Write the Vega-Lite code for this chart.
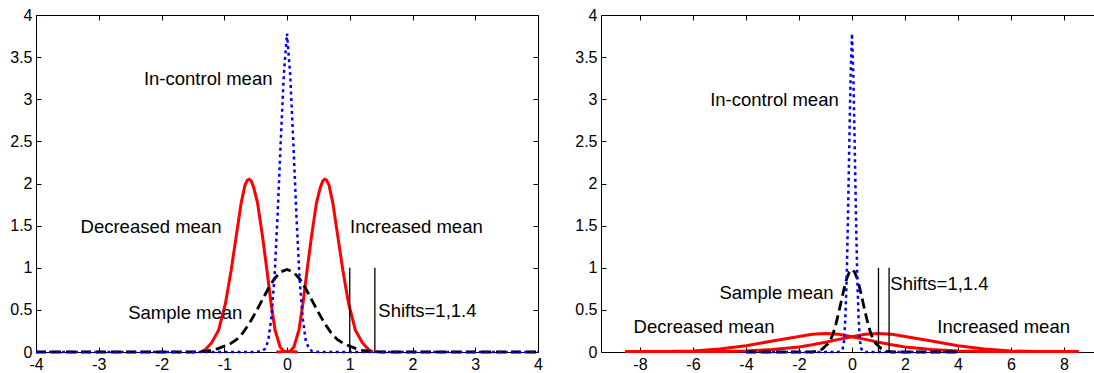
{
  "$schema": "https://vega.github.io/schema/vega-lite/v6.json",
  "padding": {"left": 9, "top": 7, "right": 0, "bottom": 0},
  "background": "white",
  "spacing": 30,
  "config": {
    "view": {"stroke": null},
    "font": "Liberation Sans",
    "axis": {"grid": false, "domain": false, "labelFont": "Liberation Sans", "labelFontSize": 16, "labelColor": "#000000", "tickColor": "#000000", "tickWidth": 1, "domainColor": "#000000", "domainWidth": 1, "title": null, "labelFlush": false, "labelOverlap": false}
  },
  "datasets": {
    "core": [
      {"x": -4, "y": 0, "kind": "incontrol"}, {"x": -0.5, "y": 0, "kind": "incontrol"}, {"x": -0.4, "y": 0.01, "kind": "incontrol"}, {"x": -0.35, "y": 0.04, "kind": "incontrol"}, {"x": -0.3, "y": 0.13, "kind": "incontrol"}, {"x": -0.25, "y": 0.4, "kind": "incontrol"}, {"x": -0.2, "y": 0.88, "kind": "incontrol"}, {"x": -0.15, "y": 1.62, "kind": "incontrol"}, {"x": -0.1, "y": 2.5, "kind": "incontrol"}, {"x": -0.05, "y": 3.3, "kind": "incontrol"}, {"x": 0, "y": 3.78, "kind": "incontrol"}, {"x": 0.05, "y": 3.3, "kind": "incontrol"}, {"x": 0.1, "y": 2.5, "kind": "incontrol"}, {"x": 0.15, "y": 1.62, "kind": "incontrol"}, {"x": 0.2, "y": 0.88, "kind": "incontrol"}, {"x": 0.25, "y": 0.4, "kind": "incontrol"}, {"x": 0.3, "y": 0.13, "kind": "incontrol"}, {"x": 0.35, "y": 0.04, "kind": "incontrol"}, {"x": 0.4, "y": 0.01, "kind": "incontrol"}, {"x": 0.5, "y": 0, "kind": "incontrol"}, {"x": 4, "y": 0, "kind": "incontrol"},
      {"x": -4, "y": 0, "kind": "sample"}, {"x": -1.5, "y": 0, "kind": "sample"}, {"x": -1.3, "y": 0.01, "kind": "sample"}, {"x": -1.2, "y": 0.02, "kind": "sample"}, {"x": -1.1, "y": 0.04, "kind": "sample"}, {"x": -1.0, "y": 0.07, "kind": "sample"}, {"x": -0.9, "y": 0.1, "kind": "sample"}, {"x": -0.8, "y": 0.15, "kind": "sample"}, {"x": -0.7, "y": 0.23, "kind": "sample"}, {"x": -0.6, "y": 0.34, "kind": "sample"}, {"x": -0.5, "y": 0.47, "kind": "sample"}, {"x": -0.4, "y": 0.61, "kind": "sample"}, {"x": -0.3, "y": 0.75, "kind": "sample"}, {"x": -0.2, "y": 0.87, "kind": "sample"}, {"x": -0.1, "y": 0.95, "kind": "sample"}, {"x": 0, "y": 0.98, "kind": "sample"}, {"x": 0.1, "y": 0.95, "kind": "sample"}, {"x": 0.2, "y": 0.87, "kind": "sample"}, {"x": 0.3, "y": 0.75, "kind": "sample"}, {"x": 0.4, "y": 0.61, "kind": "sample"}, {"x": 0.5, "y": 0.47, "kind": "sample"}, {"x": 0.6, "y": 0.34, "kind": "sample"}, {"x": 0.7, "y": 0.23, "kind": "sample"}, {"x": 0.8, "y": 0.15, "kind": "sample"}, {"x": 0.9, "y": 0.1, "kind": "sample"}, {"x": 1.0, "y": 0.07, "kind": "sample"}, {"x": 1.1, "y": 0.04, "kind": "sample"}, {"x": 1.2, "y": 0.02, "kind": "sample"}, {"x": 1.3, "y": 0.01, "kind": "sample"}, {"x": 1.5, "y": 0, "kind": "sample"}, {"x": 4, "y": 0, "kind": "sample"}
    ],
    "redL": [
      {"x": -1.37, "y": 0, "curve": "dec"}, {"x": -1.3, "y": 0.03, "curve": "dec"}, {"x": -1.2, "y": 0.11, "curve": "dec"}, {"x": -1.09, "y": 0.26, "curve": "dec"}, {"x": -0.98, "y": 0.58, "curve": "dec"}, {"x": -0.89, "y": 0.97, "curve": "dec"}, {"x": -0.81, "y": 1.37, "curve": "dec"}, {"x": -0.73, "y": 1.77, "curve": "dec"}, {"x": -0.67, "y": 1.98, "curve": "dec"}, {"x": -0.63, "y": 2.04, "curve": "dec"}, {"x": -0.6, "y": 2.05, "curve": "dec"}, {"x": -0.57, "y": 2.03, "curve": "dec"}, {"x": -0.53, "y": 1.95, "curve": "dec"}, {"x": -0.47, "y": 1.77, "curve": "dec"}, {"x": -0.39, "y": 1.37, "curve": "dec"}, {"x": -0.32, "y": 0.97, "curve": "dec"}, {"x": -0.255, "y": 0.58, "curve": "dec"}, {"x": -0.19, "y": 0.26, "curve": "dec"}, {"x": -0.11, "y": 0.06, "curve": "dec"}, {"x": -0.05, "y": 0.01, "curve": "dec"}, {"x": 0.17, "y": 0, "curve": "dec"},
      {"x": -0.17, "y": 0, "curve": "inc"}, {"x": 0.05, "y": 0.01, "curve": "inc"}, {"x": 0.11, "y": 0.06, "curve": "inc"}, {"x": 0.19, "y": 0.26, "curve": "inc"}, {"x": 0.255, "y": 0.58, "curve": "inc"}, {"x": 0.32, "y": 0.97, "curve": "inc"}, {"x": 0.39, "y": 1.37, "curve": "inc"}, {"x": 0.47, "y": 1.77, "curve": "inc"}, {"x": 0.53, "y": 1.95, "curve": "inc"}, {"x": 0.57, "y": 2.03, "curve": "inc"}, {"x": 0.6, "y": 2.05, "curve": "inc"}, {"x": 0.63, "y": 2.04, "curve": "inc"}, {"x": 0.67, "y": 1.98, "curve": "inc"}, {"x": 0.73, "y": 1.77, "curve": "inc"}, {"x": 0.81, "y": 1.37, "curve": "inc"}, {"x": 0.89, "y": 0.97, "curve": "inc"}, {"x": 0.98, "y": 0.58, "curve": "inc"}, {"x": 1.09, "y": 0.26, "curve": "inc"}, {"x": 1.2, "y": 0.11, "curve": "inc"}, {"x": 1.3, "y": 0.03, "curve": "inc"}, {"x": 1.37, "y": 0, "curve": "inc"}
    ],
    "redR": [
      {"x": -8.55, "y": 0.005, "curve": "dec"}, {"x": -7, "y": 0.005, "curve": "dec"}, {"x": -6, "y": 0.012, "curve": "dec"}, {"x": -5, "y": 0.035, "curve": "dec"}, {"x": -4, "y": 0.075, "curve": "dec"}, {"x": -3, "y": 0.13, "curve": "dec"}, {"x": -2, "y": 0.185, "curve": "dec"}, {"x": -1.5, "y": 0.21, "curve": "dec"}, {"x": -1, "y": 0.22, "curve": "dec"}, {"x": -0.5, "y": 0.21, "curve": "dec"}, {"x": 0, "y": 0.18, "curve": "dec"}, {"x": 0.5, "y": 0.15, "curve": "dec"}, {"x": 1, "y": 0.115, "curve": "dec"}, {"x": 1.5, "y": 0.085, "curve": "dec"}, {"x": 2, "y": 0.06, "curve": "dec"}, {"x": 3, "y": 0.03, "curve": "dec"}, {"x": 4, "y": 0.012, "curve": "dec"}, {"x": 5, "y": 0.005, "curve": "dec"}, {"x": 8.55, "y": 0.005, "curve": "dec"},
      {"x": -8.55, "y": 0.005, "curve": "inc"}, {"x": -5, "y": 0.005, "curve": "inc"}, {"x": -4, "y": 0.012, "curve": "inc"}, {"x": -3, "y": 0.03, "curve": "inc"}, {"x": -2, "y": 0.06, "curve": "inc"}, {"x": -1.5, "y": 0.085, "curve": "inc"}, {"x": -1, "y": 0.115, "curve": "inc"}, {"x": -0.5, "y": 0.15, "curve": "inc"}, {"x": 0, "y": 0.18, "curve": "inc"}, {"x": 0.5, "y": 0.21, "curve": "inc"}, {"x": 1, "y": 0.22, "curve": "inc"}, {"x": 1.5, "y": 0.21, "curve": "inc"}, {"x": 2, "y": 0.185, "curve": "inc"}, {"x": 3, "y": 0.13, "curve": "inc"}, {"x": 4, "y": 0.075, "curve": "inc"}, {"x": 5, "y": 0.035, "curve": "inc"}, {"x": 6, "y": 0.012, "curve": "inc"}, {"x": 7, "y": 0.005, "curve": "inc"}, {"x": 8.55, "y": 0.005, "curve": "inc"}
    ],
    "shifts": [{"x": 1, "y0": 0, "y1": 1}, {"x": 1.4, "y0": 0, "y1": 1}],
    "labelsL": [
      {"t": "In-control mean", "x": -2.28, "y": 3.17},
      {"t": "Decreased mean", "x": -3.29, "y": 1.41},
      {"t": "Increased mean", "x": 1.005, "y": 1.41},
      {"t": "Sample mean", "x": -2.53, "y": 0.39},
      {"t": "Shifts=1,1.4", "x": 1.455, "y": 0.41}
    ],
    "labelsR": [
      {"t": "In-control mean", "x": -5.35, "y": 2.92},
      {"t": "Sample mean", "x": -5.0, "y": 0.625},
      {"t": "Shifts=1,1.4", "x": 1.447, "y": 0.73},
      {"t": "Decreased mean", "x": -8.24, "y": 0.22},
      {"t": "Increased mean", "x": 3.22, "y": 0.22}
    ]
  },
  "hconcat": [
    {
      "width": 502,
      "height": 337,
      "layer": [
        {
          "data": {"name": "redL"},
          "mark": {"type": "line", "color": "#ff0000", "strokeWidth": 3},
          "encoding": {
            "x": {"field": "x", "type": "quantitative", "scale": {"domain": [-4, 4], "nice": false}, "axis": {"orient": "bottom", "ticks": false, "domain": true, "labelPadding": 4, "values": [-4, -3, -2, -1, 0, 1, 2, 3, 4], "labelExpr": "datum.value + ''"}},
            "y": {"field": "y", "type": "quantitative", "scale": {"domain": [0, 4], "nice": false}, "axis": {"orient": "left", "ticks": false, "domain": true, "labelPadding": 4, "values": [0, 0.5, 1, 1.5, 2, 2.5, 3, 3.5, 4], "labelExpr": "datum.value + ''"}},
            "detail": {"field": "curve"}
          }
        },
        {
          "data": {"name": "core"},
          "transform": [{"filter": "datum.kind === 'sample'"}],
          "mark": {"type": "line", "color": "#000000", "strokeWidth": 2.8, "strokeDash": [10, 5]},
          "encoding": {
            "x": {"field": "x", "type": "quantitative", "axis": null},
            "y": {"field": "y", "type": "quantitative", "axis": null}
          }
        },
        {
          "data": {"name": "core"},
          "transform": [{"filter": "datum.kind === 'incontrol'"}],
          "mark": {"type": "line", "color": "#0000ff", "strokeWidth": 2.5, "strokeDash": [3, 3.5]},
          "encoding": {
            "x": {"field": "x", "type": "quantitative", "axis": null},
            "y": {"field": "y", "type": "quantitative", "axis": null}
          }
        },
        {
          "data": {"name": "shifts"},
          "mark": {"type": "rule", "color": "#000000", "strokeWidth": 1.3},
          "encoding": {
            "x": {"field": "x", "type": "quantitative", "axis": null},
            "y": {"field": "y0", "type": "quantitative", "axis": null},
            "y2": {"field": "y1"}
          }
        },
        {
          "data": {"name": "labelsL"},
          "mark": {"type": "text", "align": "left", "baseline": "alphabetic", "fontSize": 18.5, "font": "Liberation Sans", "color": "#000000"},
          "encoding": {
            "x": {"field": "x", "type": "quantitative", "axis": null},
            "y": {"field": "y", "type": "quantitative", "axis": null},
            "text": {"field": "t"}
          }
        },
        {
          "data": {"name": "shifts"},
          "mark": {"type": "point", "opacity": 0},
          "encoding": {
            "x": {"field": "x", "type": "quantitative", "axis": {"orient": "top", "offset": -337, "labels": false, "ticks": true, "tickSize": 5, "values": [-4, -3, -2, -1, 0, 1, 2, 3, 4]}},
            "y": {"field": "y1", "type": "quantitative", "axis": {"orient": "right", "offset": -502, "labels": false, "ticks": true, "tickSize": 5, "values": [0, 0.5, 1, 1.5, 2, 2.5, 3, 3.5, 4]}}
          }
        },
        {
          "data": {"name": "shifts"},
          "mark": {"type": "point", "opacity": 0},
          "encoding": {
            "x": {"field": "x", "type": "quantitative", "axis": {"orient": "bottom", "offset": -337, "labels": false, "ticks": true, "domain": true, "tickSize": 5, "values": [-4, -3, -2, -1, 0, 1, 2, 3, 4]}},
            "y": {"field": "y1", "type": "quantitative", "axis": {"orient": "left", "offset": -502, "labels": false, "ticks": true, "domain": true, "tickSize": 5, "values": [0, 0.5, 1, 1.5, 2, 2.5, 3, 3.5, 4]}}
          }
        }
      ],
      "resolve": {"axis": {"x": "independent", "y": "independent"}}
    },
    {
      "width": 496,
      "height": 337,
      "layer": [
        {
          "data": {"name": "redR"},
          "mark": {"type": "line", "color": "#ff0000", "strokeWidth": 3},
          "encoding": {
            "x": {"field": "x", "type": "quantitative", "scale": {"domain": [-9.47, 9.245], "nice": false, "zero": false}, "axis": {"orient": "bottom", "ticks": false, "domain": true, "labelPadding": 4, "values": [-8, -6, -4, -2, 0, 2, 4, 6, 8], "labelExpr": "datum.value + ''"}},
            "y": {"field": "y", "type": "quantitative", "scale": {"domain": [0, 4], "nice": false}, "axis": {"orient": "left", "ticks": false, "domain": true, "labelPadding": 4, "values": [0, 0.5, 1, 1.5, 2, 2.5, 3, 3.5, 4], "labelExpr": "datum.value + ''"}},
            "detail": {"field": "curve"}
          }
        },
        {
          "data": {"name": "core"},
          "transform": [{"filter": "datum.kind === 'sample'"}],
          "mark": {"type": "line", "color": "#000000", "strokeWidth": 2.8, "strokeDash": [10, 5]},
          "encoding": {
            "x": {"field": "x", "type": "quantitative", "axis": null},
            "y": {"field": "y", "type": "quantitative", "axis": null}
          }
        },
        {
          "data": {"name": "core"},
          "transform": [{"filter": "datum.kind === 'incontrol'"}],
          "mark": {"type": "line", "color": "#0000ff", "strokeWidth": 2.5, "strokeDash": [3, 3.5]},
          "encoding": {
            "x": {"field": "x", "type": "quantitative", "axis": null},
            "y": {"field": "y", "type": "quantitative", "axis": null}
          }
        },
        {
          "data": {"name": "shifts"},
          "mark": {"type": "rule", "color": "#000000", "strokeWidth": 1.3},
          "encoding": {
            "x": {"field": "x", "type": "quantitative", "axis": null},
            "y": {"field": "y0", "type": "quantitative", "axis": null},
            "y2": {"field": "y1"}
          }
        },
        {
          "data": {"name": "labelsR"},
          "mark": {"type": "text", "align": "left", "baseline": "alphabetic", "fontSize": 18.5, "font": "Liberation Sans", "color": "#000000"},
          "encoding": {
            "x": {"field": "x", "type": "quantitative", "axis": null},
            "y": {"field": "y", "type": "quantitative", "axis": null},
            "text": {"field": "t"}
          }
        },
        {
          "data": {"name": "shifts"},
          "mark": {"type": "point", "opacity": 0},
          "encoding": {
            "x": {"field": "x", "type": "quantitative", "axis": {"orient": "top", "offset": -337, "labels": false, "ticks": true, "tickSize": 5, "values": [-8, -6, -4, -2, 0, 2, 4, 6, 8]}},
            "y": {"field": "y1", "type": "quantitative", "axis": {"orient": "right", "offset": -496, "labels": false, "ticks": true, "tickSize": 5, "values": [0, 0.5, 1, 1.5, 2, 2.5, 3, 3.5, 4]}}
          }
        },
        {
          "data": {"name": "shifts"},
          "mark": {"type": "point", "opacity": 0},
          "encoding": {
            "x": {"field": "x", "type": "quantitative", "axis": {"orient": "bottom", "offset": -337, "labels": false, "ticks": true, "domain": true, "tickSize": 5, "values": [-8, -6, -4, -2, 0, 2, 4, 6, 8]}}
          }
        }
      ],
      "resolve": {"axis": {"x": "independent", "y": "independent"}}
    }
  ]
}
